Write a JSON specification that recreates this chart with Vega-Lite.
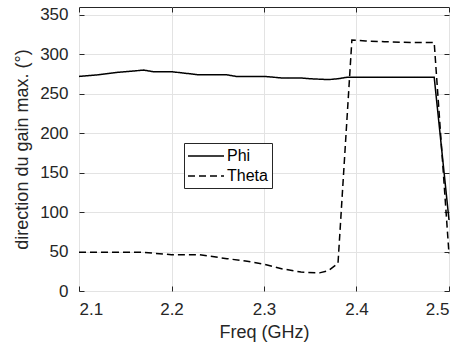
{
  "$schema": "https://vega.github.io/schema/vega-lite/v6.json",
  "width": 370,
  "height": 284,
  "autosize": {"type": "none"},
  "padding": {"left": 79, "top": 7, "right": 10, "bottom": 56},
  "background": "white",
  "config": {
    "font": "Liberation Sans",
    "view": {"stroke": "#262626", "strokeWidth": 1},
    "axis": {
      "domain": false,
      "tickColor": "#262626",
      "tickSize": -5,
      "labelColor": "#262626",
      "labelFontSize": 17,
      "titleFontSize": 18,
      "titleFontWeight": "normal",
      "titleColor": "#262626",
      "gridColor": "#e3e3e3",
      "gridWidth": 1
    }
  },
  "resolve": {"axis": {"x": "independent", "y": "independent"}},
  "data": {
    "values": [
      {"f": 2.10, "v": 272, "s": "Phi"},
      {"f": 2.12, "v": 274, "s": "Phi"},
      {"f": 2.14, "v": 277, "s": "Phi"},
      {"f": 2.17, "v": 280, "s": "Phi"},
      {"f": 2.18, "v": 278, "s": "Phi"},
      {"f": 2.20, "v": 278, "s": "Phi"},
      {"f": 2.23, "v": 274, "s": "Phi"},
      {"f": 2.26, "v": 274, "s": "Phi"},
      {"f": 2.27, "v": 272, "s": "Phi"},
      {"f": 2.30, "v": 272, "s": "Phi"},
      {"f": 2.32, "v": 270, "s": "Phi"},
      {"f": 2.34, "v": 270, "s": "Phi"},
      {"f": 2.35, "v": 269, "s": "Phi"},
      {"f": 2.37, "v": 268, "s": "Phi"},
      {"f": 2.38, "v": 269, "s": "Phi"},
      {"f": 2.39, "v": 271, "s": "Phi"},
      {"f": 2.484, "v": 271, "s": "Phi"},
      {"f": 2.50, "v": 90, "s": "Phi"},
      {"f": 2.10, "v": 49, "s": "Theta"},
      {"f": 2.17, "v": 49, "s": "Theta"},
      {"f": 2.20, "v": 46, "s": "Theta"},
      {"f": 2.23, "v": 46, "s": "Theta"},
      {"f": 2.26, "v": 41, "s": "Theta"},
      {"f": 2.28, "v": 38, "s": "Theta"},
      {"f": 2.30, "v": 34, "s": "Theta"},
      {"f": 2.32, "v": 28, "s": "Theta"},
      {"f": 2.34, "v": 24, "s": "Theta"},
      {"f": 2.36, "v": 23, "s": "Theta"},
      {"f": 2.37, "v": 26, "s": "Theta"},
      {"f": 2.38, "v": 35, "s": "Theta"},
      {"f": 2.395, "v": 318, "s": "Theta"},
      {"f": 2.41, "v": 317, "s": "Theta"},
      {"f": 2.43, "v": 316, "s": "Theta"},
      {"f": 2.46, "v": 315, "s": "Theta"},
      {"f": 2.484, "v": 315, "s": "Theta"},
      {"f": 2.50, "v": 47, "s": "Theta"}
    ]
  },
  "layer": [
    {
      "mark": {"type": "line", "color": "black", "strokeWidth": 1.5},
      "encoding": {
        "x": {
          "field": "f", "type": "quantitative",
          "scale": {"domain": [2.1, 2.5], "nice": false, "zero": false},
          "axis": {"title": "Freq (GHz)", "values": [2.1, 2.2, 2.3, 2.4, 2.5], "format": ".1f", "labelPadding": 15, "titlePadding": 6}
        },
        "y": {
          "field": "v", "type": "quantitative",
          "scale": {"domain": [0, 360], "nice": false},
          "axis": {"title": "direction du gain max. (°)", "values": [0, 50, 100, 150, 200, 250, 300, 350], "labelPadding": 16, "titlePadding": 8}
        },
        "strokeDash": {
          "field": "s", "type": "nominal",
          "scale": {"domain": ["Phi", "Theta"], "range": [[1, 0], [7, 4]]},
          "legend": {
            "title": null,
            "orient": "none",
            "legendX": 105,
            "legendY": 136,
            "symbolType": "M-1.125,0H3.375",
            "symbolSize": 256,
            "symbolStrokeWidth": 1.5,
            "symbolStrokeColor": "black",
            "symbolFillColor": "transparent",
            "labelFontSize": 16,
            "labelColor": "black",
            "labelExpr": "datum.label + '\u00a0'",
            "strokeColor": "#262626",
            "fillColor": "white",
            "padding": 4,
            "rowPadding": 3,
            "labelOffset": 21
          }
        }
      }
    },
    {
      "mark": {"type": "line", "opacity": 0},
      "encoding": {
        "x": {
          "field": "f", "type": "quantitative",
          "axis": {"orient": "top", "title": null, "labels": false, "grid": false, "values": [2.1, 2.2, 2.3, 2.4, 2.5]}
        },
        "y": {
          "field": "v", "type": "quantitative",
          "axis": {"orient": "right", "title": null, "labels": false, "grid": false, "values": [0, 50, 100, 150, 200, 250, 300, 350]}
        }
      }
    }
  ]
}
